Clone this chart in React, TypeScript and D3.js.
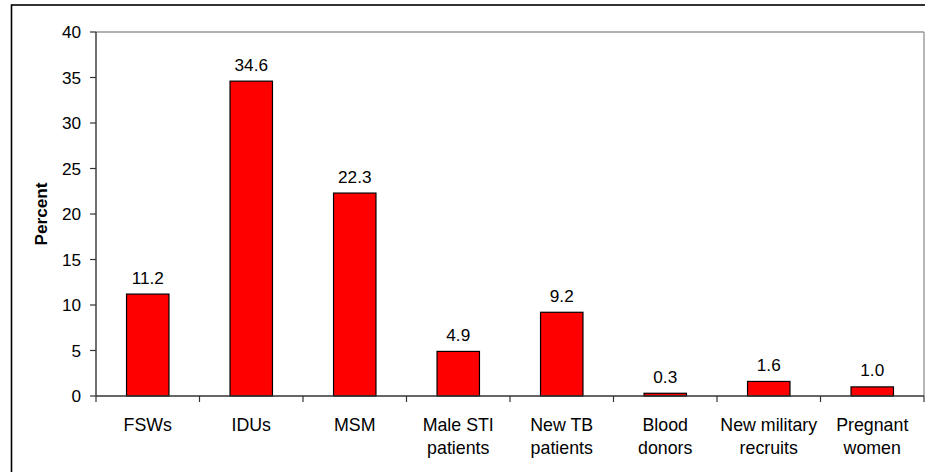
import React from "react";
import * as d3 from "d3";

const categories: string[][] = [
  ["FSWs"],
  ["IDUs"],
  ["MSM"],
  ["Male STI", "patients"],
  ["New TB", "patients"],
  ["Blood", "donors"],
  ["New military", "recruits"],
  ["Pregnant", "women"],
];
const values: number[] = [11.2, 34.6, 22.3, 4.9, 9.2, 0.3, 1.6, 1.0];
const yTicks: number[] = [0, 5, 10, 15, 20, 25, 30, 35, 40];
const yLabel = "Percent";

const W = 925;
const H = 472;
const left = 96;
const right = 924;
const top = 32;
const bottom = 396;
const font = "'Liberation Sans', Arial, sans-serif";

export default function App() {
  const keys = categories.map((c) => c.join(" "));
  const x = d3.scaleBand<string>().domain(keys).range([left, right]).padding(0);
  const y = d3.scaleLinear().domain([0, 40]).range([bottom, top]);
  const bw = x.bandwidth() * 0.41;

  return (
    <svg
      width={W}
      height={H}
      style={{ position: "absolute", left: 0, top: 0, background: "#fff" }}
      fontFamily={font}
    >
      <rect x={0} y={0} width={W} height={H} fill="#fff" />
      {/* outer chart border */}
      <rect x={11.5} y={5} width={W + 20} height={H + 20} fill="none" stroke="#000" strokeWidth={1.6} />
      {/* plot frame top/right */}
      <line x1={left} x2={right} y1={top} y2={top} stroke="#999" strokeWidth={1.4} />
      <line x1={right} x2={right} y1={top} y2={bottom} stroke="#999" strokeWidth={1.4} />
      {/* bars */}
      {values.map((v, i) => {
        const cx = (x(keys[i]) as number) + x.bandwidth() / 2;
        return (
          <g key={i}>
            <rect
              x={cx - bw / 2}
              y={y(v)}
              width={bw}
              height={bottom - y(v)}
              fill="#ff0000"
              stroke="#000"
              strokeWidth={1.2}
            />
            <text x={cx} y={y(v) - 10.5} textAnchor="middle" fontSize={17.2} fill="#000">
              {v.toFixed(1)}
            </text>
          </g>
        );
      })}
      {/* y axis */}
      <line x1={left} x2={left} y1={top} y2={bottom} stroke="#333" strokeWidth={1.4} />
      {yTicks.map((t) => (
        <g key={t}>
          <line x1={left - 6} x2={left} y1={y(t)} y2={y(t)} stroke="#333" strokeWidth={1.2} />
          <text x={81} y={y(t) + 6} textAnchor="end" fontSize={17.2} fill="#000">
            {t}
          </text>
        </g>
      ))}
      {/* x axis */}
      <line x1={left} x2={right} y1={bottom} y2={bottom} stroke="#333" strokeWidth={1.4} />
      {keys.map((k, i) => (
        <line
          key={"t" + i}
          x1={x(k) as number}
          x2={x(k) as number}
          y1={bottom}
          y2={bottom + 6}
          stroke="#333"
          strokeWidth={1.2}
        />
      ))}
      <line x1={right} x2={right} y1={bottom} y2={bottom + 6} stroke="#333" strokeWidth={1.2} />
      {categories.map((lines, i) => {
        const cx = (x(keys[i]) as number) + x.bandwidth() / 2;
        return (
          <text key={"c" + i} textAnchor="middle" fontSize={17.8} fill="#000">
            {lines.map((l, j) => (
              <tspan key={j} x={cx} y={431 + j * 22.5}>
                {l}
              </tspan>
            ))}
          </text>
        );
      })}
      <text
        transform={`translate(46.5, ${(top + bottom) / 2}) rotate(-90)`}
        textAnchor="middle"
        fontSize={17.2}
        fontWeight="bold"
        fill="#000"
      >
        {yLabel}
      </text>
    </svg>
  );
}
